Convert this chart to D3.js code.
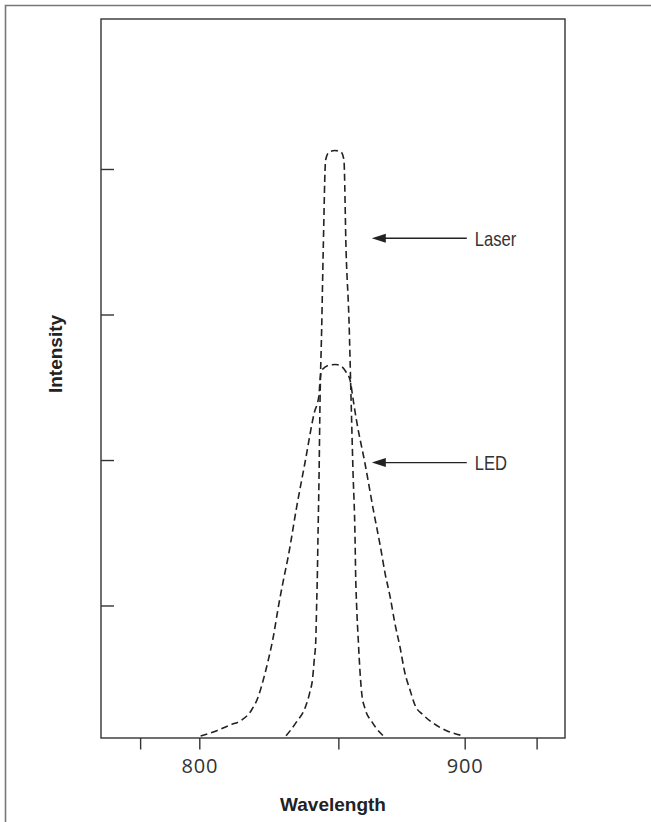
<!DOCTYPE html>
<html>
<head>
<meta charset="utf-8">
<script src="https://cdn.jsdelivr.net/npm/d3@7"></script>
<style>
  body { margin: 0; background: #fff; }
  .frame { fill: none; stroke: #777; stroke-width: 1.6; }
  .plotbox { fill: none; stroke: #333; stroke-width: 1.4; }
  .tick line { stroke: #333; stroke-width: 1.4; }
  .curve { fill: none; stroke: #222; stroke-width: 1.6; stroke-dasharray: 7, 4; }
  .arrow { stroke: #222; stroke-width: 1.4; }
  .note { font-family: "Liberation Sans", Arial, sans-serif; font-size: 20px; fill: #333; }
  .ticklabel { font-family: "Open Sans", sans-serif; font-size: 20px; fill: #333; letter-spacing: 0.8px; }
  .axis-title { font-family: "Liberation Sans", Arial, sans-serif; font-weight: bold; font-size: 19px; fill: #222; }
</style>
</head>
<body>
<svg class="scene"></svg>
<script>

//
// data
//

// wavelength (nm) and relative intensity
var laser_wl = [832.7, 836.7, 839.8, 841.7, 842.7, 843.3, 843.9, 844.2, 844.5, 844.7,
    845.1, 845.5, 846.1, 846.7, 847.6, 848.9, 851.1, 853.4, 854.5, 855.3, 856.4,
    857.2, 857.9, 858.7, 858.9, 859.3, 859.9, 860.6, 861.2, 862.4, 865.0, 869.3];
var laser_int = [0.3, 2.27, 4.13, 6.44, 8.3, 10.85, 13.63, 18.26, 22.91, 27.54,
    35.88, 47.01, 56.75, 67.87, 80.39, 81.5, 81.71, 81.5, 80.39, 67.87, 58.14,
    47.01, 37.27, 27.54, 22.95, 18.26, 13.63, 9.0, 6.22, 4.13, 2.27, 0.3];

var led_wl = [800.5, 806.6, 811.6, 816.0, 819.7, 822.2, 824.1, 826.0, 827.9, 829.8,
    831.7, 833.5, 836.7, 839.8, 843.3, 845.1, 845.5, 846.2, 849.2, 851.5, 853.7,
    855.3, 856.8, 858.0, 859.2, 862.4, 865.8, 868.2, 870.0, 871.9, 873.7, 875.6,
    877.5, 879.4, 881.3, 884.4, 888.2, 893.2, 899.5];
var led_int = [0.28, 1.02, 1.81, 2.5, 3.89, 5.74, 8.07, 10.85, 14.09, 18.26,
    21.97, 25.22, 32.16, 38.25, 45.2, 47.7, 49.79, 51.18, 51.88, 51.95, 51.64,
    50.9, 49.79, 47.01, 44.23, 38.25, 31.29, 26.7, 22.91, 19.65, 15.95, 12.7,
    9.0, 6.68, 4.55, 3.2, 2.04, 1.02, 0.3];

var x_domain = [762.96, 937.8];
var x_ticks = [777.7, 800, 852.4, 900, 927.1];
var x_tick_labels = ["", "800", "", "900", ""];

var y_domain = [0, 100];
var y_ticks = [18.43, 38.66, 58.9, 79.14];

// annotation: label, intensity where the arrow points, wavelength of arrow tip
var notes = [
    { "label": "Laser", "wl": 865.0, "int": 69.5 },
    { "label": "LED", "wl": 865.0, "int": 38.3 }
];

//
// scene
//

var width = 651,
    height = 822;

var box = { left: 101, top: 19, right: 565, bottom: 738 };

var scene = d3.select(".scene")
    .attr("width", width)
    .attr("height", height);

// outer frame (top and left edge only show)
scene.append("path")
    .attr("class", "frame")
    .attr("d", "M5.5," + height + " V5.5 H" + width);

var x = d3.scaleLinear().domain(x_domain).range([box.left, box.right]);
var y = d3.scaleLinear().domain(y_domain).range([box.bottom, box.top]);

// x ticks point down, outside the box
var x_axis = scene.append("g")
    .attr("transform", "translate(0," + box.bottom + ")")
    .call(d3.axisBottom(x).tickValues(x_ticks).tickSize(11.5).tickFormat(""));
x_axis.select(".domain").remove();

x_axis.selectAll(".tick")
    .append("text")
    .attr("class", "ticklabel")
    .attr("y", 35)
    .attr("text-anchor", "middle")
    .text(function (d, i) { return x_tick_labels[i]; });

// y ticks point right, inside the box
var y_axis = scene.append("g")
    .attr("transform", "translate(" + box.left + ",0)")
    .call(d3.axisRight(y).tickValues(y_ticks).tickSize(13).tickFormat(""));
y_axis.select(".domain").remove();

scene.append("rect")
    .attr("class", "plotbox")
    .attr("x", box.left)
    .attr("y", box.top)
    .attr("width", box.right - box.left)
    .attr("height", box.bottom - box.top);

//
// curves
//

var line = d3.line()
    .x(function (d) { return x(d[0]); })
    .y(function (d) { return y(d[1]); })
    .curve(d3.curveMonotoneX);

scene.append("path")
    .attr("class", "curve")
    .attr("d", line(d3.zip(led_wl, led_int)));

scene.append("path")
    .attr("class", "curve")
    .attr("d", line(d3.zip(laser_wl, laser_int)));

//
// arrows + labels
//

var arrows = scene.selectAll("g.note")
    .data(notes)
    .enter().append("g")
    .attr("class", "note-group")
    .attr("transform", function (d) {
        return "translate(" + x(d.wl) + "," + y(d.int) + ")";
    });

arrows.append("line")
    .attr("class", "arrow")
    .attr("x1", 12)
    .attr("x2", 95)
    .attr("y1", 0)
    .attr("y2", 0);

arrows.append("path")
    .attr("d", "M0,0 L14,-4.5 L14,4.5 Z")
    .attr("fill", "#222");

// narrow face: squeeze a regular sans horizontally
arrows.append("text")
    .attr("class", "note")
    .attr("transform", "translate(103,7.5) scale(0.83,1)")
    .text(function (d) { return d.label; });

//
// axis titles
//

scene.append("text")
    .attr("class", "axis-title")
    .attr("x", 333)
    .attr("y", 811)
    .attr("text-anchor", "middle")
    .text("Wavelength");

scene.append("text")
    .attr("class", "axis-title")
    .attr("transform", "translate(62,354) rotate(-90)")
    .attr("text-anchor", "middle")
    .text("Intensity");

</script>
</body>
</html>
